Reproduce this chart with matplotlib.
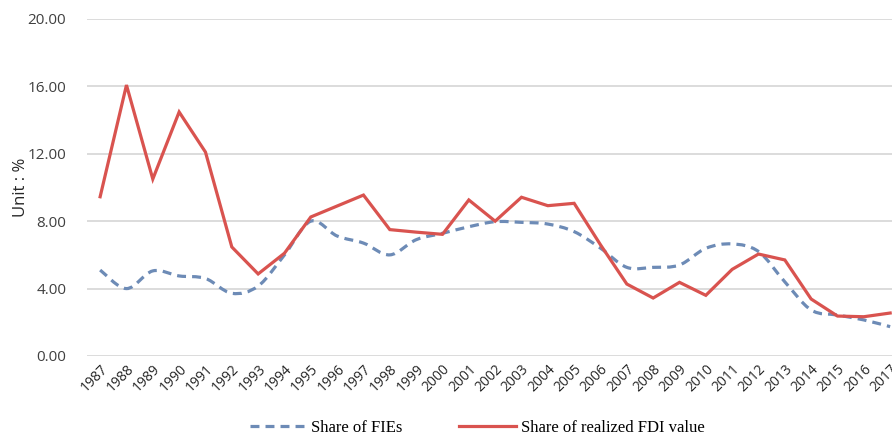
import matplotlib
matplotlib.use("Agg")
import matplotlib.pyplot as plt
from matplotlib.path import Path
from matplotlib.patches import PathPatch
from matplotlib.lines import Line2D
import numpy as np

years = list(range(1987, 2018))
share_fies = [5.10, 4.00, 5.05, 4.75, 4.60, 3.72, 4.15, 6.00, 8.00, 7.12,
              6.70, 6.00, 6.90, 7.28, 7.67, 7.97, 7.93, 7.83, 7.38, 6.40,
              5.26, 5.26, 5.40, 6.39, 6.65, 6.20, 4.40, 2.73, 2.43, 2.14, 1.74]
share_fdi = [9.45, 16.08, 10.50, 14.48, 12.10, 6.47, 4.87, 6.10, 8.25, 8.90,
             9.55, 7.50, 7.35, 7.22, 9.26, 8.00, 9.42, 8.92, 9.06, 6.60,
             4.27, 3.44, 4.37, 3.60, 5.14, 6.05, 5.70, 3.38, 2.37, 2.33, 2.55]
yticks = [0, 4, 8, 12, 16, 20]

BLUE = "#6d8bb6"
RED = "#d9534f"
GRID = "#d9d9d9"


def smooth_path(x, y):
    # cubic bezier through every point, catmull-rom style control points
    pts = np.column_stack([x, y]).astype(float)
    n = len(pts)
    verts = [pts[0]]
    codes = [Path.MOVETO]
    for i in range(n - 1):
        p0 = pts[max(i - 1, 0)]
        p1 = pts[i]
        p2 = pts[i + 1]
        p3 = pts[min(i + 2, n - 1)]
        c1 = p1 + (p2 - p0) / 6.0
        c2 = p2 - (p3 - p1) / 6.0
        verts += [c1, c2, p2]
        codes += [Path.CURVE4] * 3
    return Path(verts, codes)


fig = plt.figure(figsize=(8.92, 4.36), dpi=100)
ax = fig.add_axes([0.0975, 0.1835, 0.9025, 0.773])

ax.add_patch(PathPatch(smooth_path(years, share_fies), fill=False,
                       edgecolor=BLUE, lw=2.3, linestyle=(0, (2.8, 1.9)),
                       capstyle="butt", zorder=3))
ax.plot(years, share_fdi, color=RED, lw=2.3, solid_joinstyle="miter", zorder=4)

ax.set_xlim(1986.5, 2017.07)
ax.set_ylim(0, 20)
ax.set_yticks(yticks)
ax.set_yticklabels([f"{v:.2f}" for v in yticks], fontsize=11,
                   family="Open Sans", color="#404040")
ax.set_xticks(years)
ax.set_xticklabels([str(y) for y in years], rotation=45, ha="right",
                   rotation_mode="anchor", fontsize=10, family="Open Sans",
                   color="#262626")
ax.tick_params(axis="both", length=0)
ax.tick_params(axis="y", pad=15)
ax.tick_params(axis="x", pad=4)
ax.grid(axis="y", color=GRID, lw=1.3)
ax.set_axisbelow(True)
for s in ax.spines.values():
    s.set_visible(False)

ax.set_ylabel("Unit : %", fontsize=12, family="Open Sans", color="#262626")
ax.yaxis.set_label_coords(-0.072, 0.5)

handles = [Line2D([], [], color=BLUE, lw=2.3, linestyle=(0, (2.8, 1.9))),
           Line2D([], [], color=RED, lw=2.3)]
fig.legend(handles, ["Share of FIEs", "Share of realized FDI value"],
           loc="center", bbox_to_anchor=(0.535, 1 - 428 / 436), ncol=2,
           frameon=False, prop={"family": "Liberation Serif", "size": 12},
           handlelength=3.4, handletextpad=0.3, columnspacing=3.4)

fig.savefig("out.png", dpi=100)
